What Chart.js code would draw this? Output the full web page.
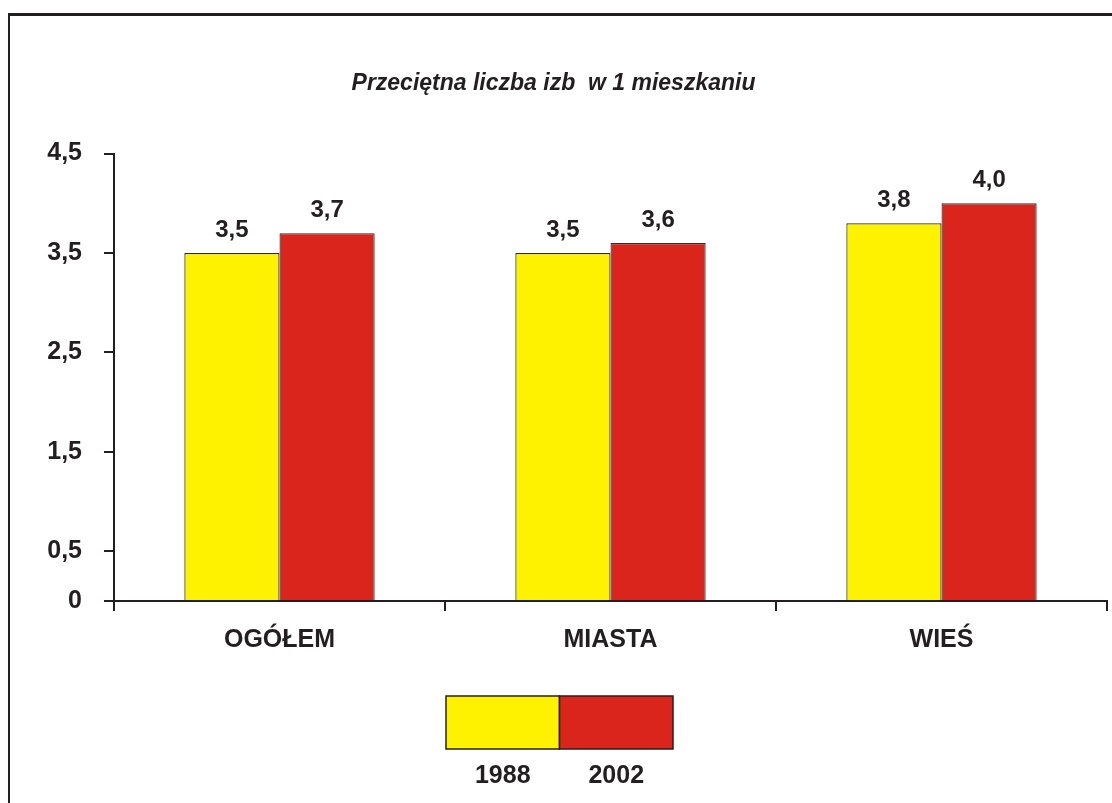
<!DOCTYPE html>
<html lang="pl">
<head>
  <meta charset="UTF-8" />
  <title>Przeciętna liczba izb w 1 mieszkaniu</title>
  <script src="https://cdn.jsdelivr.net/npm/chart.js"></script>
  <style>
    body { margin: 0; background: #fff; }
    #wrap { position: relative; width: 1112px; height: 803px; overflow: hidden; }
    #frame { position: absolute; left: 8px; top: 13px; width: 1200px; height: 900px;
             border-left: 2px solid #231f20; border-top: 3px solid #231f20; }
    #chart { position: absolute; left: 0; top: 0; }
  </style>
</head>
<body>
  <div id="wrap">
    <div id="frame"></div>
    <canvas id="chart" width="1112" height="803"></canvas>
  </div>

  <script>
    const categories = ['OGÓŁEM', 'MIASTA', 'WIEŚ'];
    const years = ['1988', '2002'];
    const values1988 = [3.5, 3.5, 3.8];
    const values2002 = [3.7, 3.6, 4.0];
    const yTicks = [0, 0.5, 1.5, 2.5, 3.5, 4.5];

    const ink = '#231f20';
    const font = 'Liberation Sans, Arial, sans-serif';
    const fmt = v => String(v).replace('.', ',');

    // value labels above each bar
    const barLabels = {
      id: 'barLabels',
      afterDatasetsDraw(chart) {
        const ctx = chart.ctx;
        ctx.save();
        ctx.font = 'bold 24px ' + font;
        ctx.fillStyle = ink;
        ctx.textAlign = 'center';
        ctx.textBaseline = 'alphabetic';
        chart.data.datasets.forEach((ds, i) => {
          chart.getDatasetMeta(i).data.forEach((bar, j) => {
            ctx.fillText(ds.data[j].toFixed(1).replace('.', ','), bar.x, bar.y - 16);
          });
        });
        ctx.restore();
      }
    };

    // legend: two joined boxes with the years below
    const boxLegend = {
      id: 'boxLegend',
      afterDraw(chart) {
        const ctx = chart.ctx;
        const left = 446, top = 696, w = 113.5, h = 53;
        ctx.save();
        chart.data.datasets.forEach((ds, i) => {
          const x = left + i * w;
          ctx.fillStyle = ds.backgroundColor;
          ctx.fillRect(x, top, w, h);
          ctx.strokeStyle = ink;
          ctx.lineWidth = 1.5;
          ctx.strokeRect(x, top, w, h);
          ctx.fillStyle = ink;
          ctx.font = 'bold 25px ' + font;
          ctx.textAlign = 'center';
          ctx.textBaseline = 'alphabetic';
          ctx.fillText(ds.label, x + w / 2, 783);
        });
        ctx.restore();
      }
    };

    new Chart(document.getElementById('chart'), {
      type: 'bar',
      data: {
        labels: categories,
        datasets: [
          { label: years[0], data: values1988, backgroundColor: '#fff200', borderColor: '#2e2e2e', borderWidth: 1.2 },
          { label: years[1], data: values2002, backgroundColor: '#da251d', borderColor: '#2e2e2e', borderWidth: 1.2 }
        ]
      },
      options: {
        responsive: false,
        animation: false,
        categoryPercentage: 0.575,
        barPercentage: 1.0,
        layout: { padding: { left: 0, right: 5, top: 0, bottom: 142 } },
        plugins: {
          legend: { display: false },
          tooltip: { enabled: false },
          title: {
            display: true,
            text: 'Przeciętna liczba izb  w 1 mieszkaniu',
            color: ink,
            font: { family: font, size: 23, weight: 'bold', style: 'italic' },
            padding: { top: 70, bottom: 56 }
          }
        },
        scales: {
          x: {
            afterFit: s => { s.height = 60; },
            grid: { offset: true, drawOnChartArea: false, tickLength: 10, color: ink, lineWidth: 2 },
            border: { color: ink, width: 2 },
            ticks: { color: ink, padding: 14, font: { family: font, size: 25, weight: 'bold' } }
          },
          y: {
            min: 0,
            max: 4.5,
            afterFit: s => { s.width = 114; },
            afterBuildTicks: axis => { axis.ticks = yTicks.map(v => ({ value: v })); },
            grid: { drawOnChartArea: false, tickLength: 10, color: ink, lineWidth: 2 },
            border: { color: ink, width: 2 },
            ticks: { color: ink, padding: 22, callback: v => fmt(v), font: { family: font, size: 25, weight: 'bold' } }
          }
        }
      },
      plugins: [barLabels, boxLegend]
    });
  </script>
</body>
</html>
